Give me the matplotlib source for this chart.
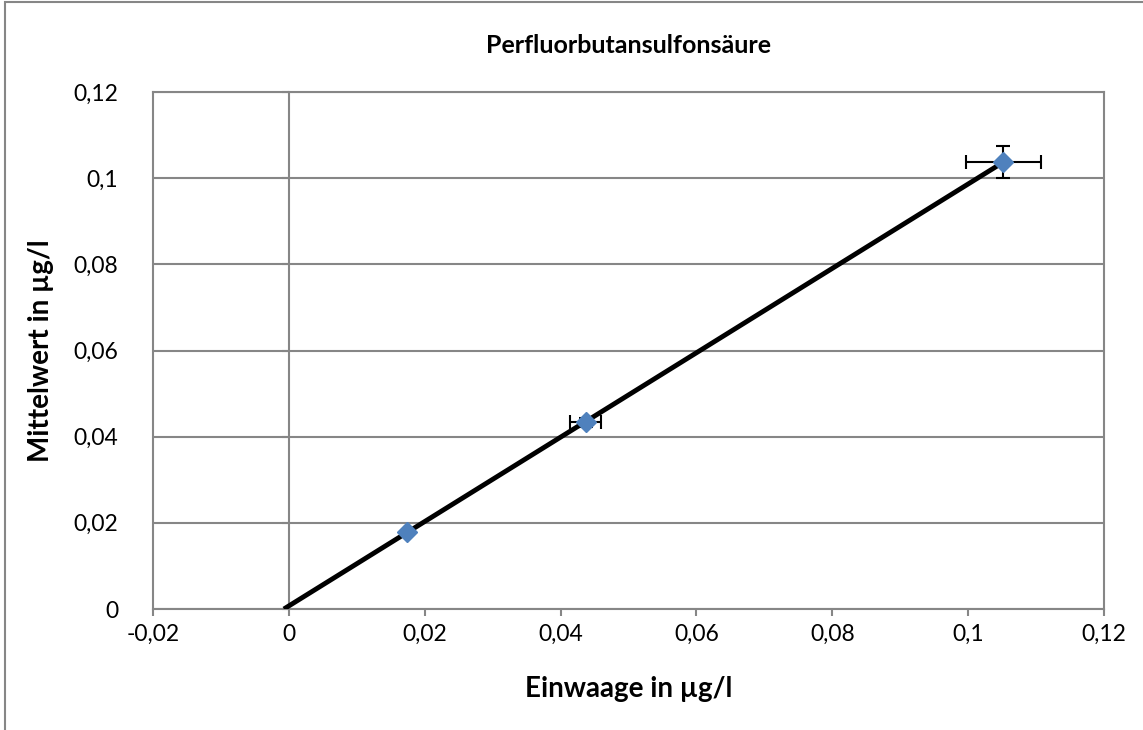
import matplotlib
matplotlib.use('Agg')
import matplotlib.pyplot as plt
from matplotlib.ticker import FuncFormatter, MultipleLocator
from matplotlib.patches import Rectangle
import numpy as np

# Messwerte (aus dem Bild geschaetzt)
einwaage = [0.0174, 0.0437, 0.1052]
mittelwert = [0.0179, 0.0433, 0.1038]
x_fehler = [0.0003, 0.0023, 0.0055]
y_fehler = [0.0003, 0.0010, 0.0037]

plt.rcParams['font.family'] = ['Lato', 'DejaVu Sans']
grau = '#868686'


def komma(v, pos):
    v = round(v, 4)
    if v == 0:
        return '0'
    return ('%g' % v).replace('.', ',')


fig = plt.figure(figsize=(11.43, 7.3), dpi=100)
ax = fig.add_axes([153 / 1143, 1 - 609 / 730, (1104 - 153) / 1143, (609 - 92) / 730])

# Trendlinie (linear)
m, b = np.polyfit(einwaage, mittelwert, 1)
xt = np.array([-b / m, max(einwaage)])
ax.plot(xt, m * xt + b, color='black', lw=3.5, zorder=3, solid_capstyle='butt')

ax.errorbar(einwaage, mittelwert, xerr=x_fehler, yerr=y_fehler, fmt='none',
            ecolor='black', elinewidth=1.5, capsize=5, capthick=1.5, zorder=4)
ax.plot(einwaage, mittelwert, 'D', color='#4F81BD', markersize=10,
        markeredgecolor='#4F81BD', zorder=5)

ax.set_xlim(-0.02, 0.12)
ax.set_ylim(0, 0.12)
ax.xaxis.set_major_locator(MultipleLocator(0.02))
ax.yaxis.set_major_locator(MultipleLocator(0.02))
ax.xaxis.set_major_formatter(FuncFormatter(komma))
ax.yaxis.set_major_formatter(FuncFormatter(komma))
ax.grid(axis='y', color=grau, lw=1.5)
ax.set_axisbelow(True)
for s in ax.spines.values():
    s.set_color(grau)
    s.set_linewidth(1.5)
ax.tick_params(axis='x', length=5, width=1.5, color=grau, labelsize=16.5, pad=6)
ax.tick_params(axis='y', length=0, labelsize=16.5, pad=25)

# Y-Achse bei x=0
sec = ax.secondary_yaxis(1 / 7)
sec.yaxis.set_major_locator(MultipleLocator(0.02))
sec.tick_params(axis='y', length=5, width=1.5, color=grau, labelleft=False)
sec.spines['left'].set_color(grau)
sec.spines['left'].set_linewidth(1.5)

ax.set_title('Perfluorbutansulfonsäure', fontsize=18, fontweight='bold', pad=28)
ax.set_xlabel('Einwaage in µg/l', fontsize=20, fontweight='bold', labelpad=22)
ax.set_ylabel('Mittelwert in µg/l', fontsize=20, fontweight='bold', labelpad=14)

fig.add_artist(Rectangle((5 / 1143, -0.05), 1.2, 1.05 - 2 / 730, transform=fig.transFigure,
                         fill=False, edgecolor=grau, lw=1.5))

fig.savefig('out.png', dpi=100)
